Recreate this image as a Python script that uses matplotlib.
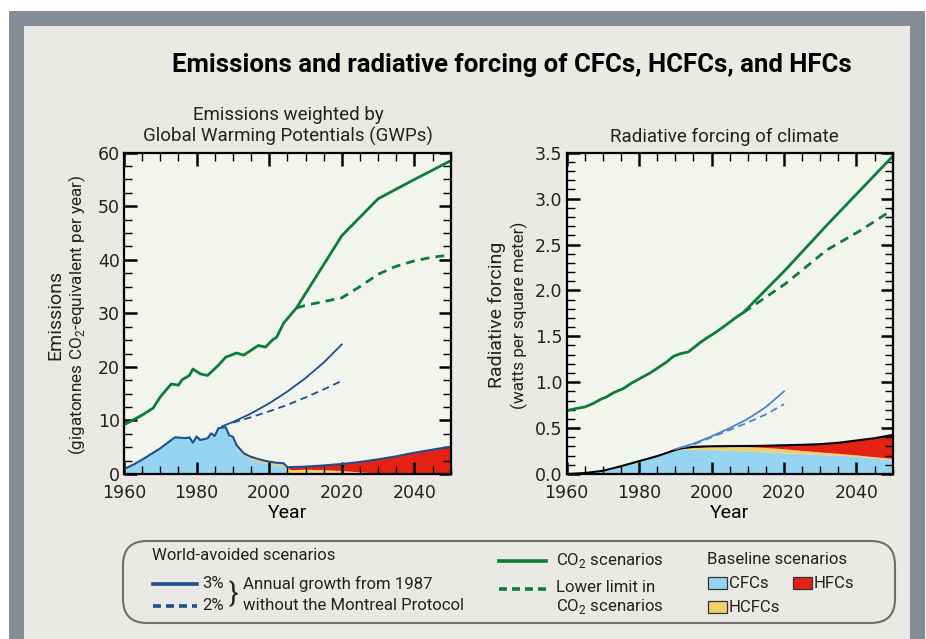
import numpy as np
import matplotlib
matplotlib.use("Agg")
import matplotlib.pyplot as plt
from matplotlib.patches import Rectangle, FancyBboxPatch
from matplotlib.lines import Line2D
from matplotlib.ticker import MultipleLocator, FormatStrFormatter

# ---- emissions (GtCO2-eq per year) ----
yrs_e = [1960, 1963, 1966, 1970, 1974, 1977, 1978, 1979, 1980, 1981, 1983, 1984,
         1985, 1986, 1988, 1989, 1990, 1991, 1993, 1995, 1998, 2000, 2002, 2004,
         2005, 2006, 2010, 2015, 2020, 2025, 2030, 2035, 2040, 2045, 2050]
cfc_e = [0.9, 1.9, 3.1, 4.8, 6.85, 6.7, 6.85, 5.85, 7.0, 6.35, 6.6, 7.5,
         7.0, 8.4, 8.5, 6.9, 6.6, 5.0, 3.4, 2.7, 2.1, 1.8, 1.6, 1.5,
         0.6, 0, 0, 0, 0, 0, 0, 0, 0, 0, 0]
hcfc_e = [0, 0, 0, 0, 0, 0, 0, 0, 0, 0, 0.05, 0.08,
          0.1, 0.15, 0.25, 0.3, 0.35, 0.4, 0.45, 0.5, 0.5, 0.5, 0.5, 0.5,
          0.65, 0.7, 0.8, 0.7, 0.55, 0.3, 0.1, 0, 0, 0, 0]
hfc_e = [0, 0, 0, 0, 0, 0, 0, 0, 0, 0, 0, 0,
         0, 0, 0, 0, 0, 0, 0, 0, 0, 0, 0, 0,
         0, 0.6, 0.57, 0.9, 1.32, 1.95, 2.64, 3.3, 3.98, 4.55, 5.1]

co2_e_yrs = [1960, 1962, 1965, 1968, 1970, 1973, 1975, 1976, 1978, 1979, 1981, 1983,
             1986, 1988, 1991, 1993, 1997, 1999, 2001, 2002, 2004, 2007.5, 2020,
             2030, 2040, 2050]
co2_e = [9.2, 9.9, 11.0, 12.3, 14.4, 16.8, 16.6, 17.6, 18.4, 19.6, 18.7, 18.4,
         20.3, 21.8, 22.6, 22.2, 24.0, 23.7, 25.1, 25.5, 28.2, 31.0, 44.5,
         51.4, 55.0, 58.5]
co2_low_e_yrs = [2007.5, 2010, 2015, 2020, 2025, 2030, 2035, 2040, 2045, 2050]
co2_low_e = [31.0, 31.5, 32.2, 32.9, 35.0, 37.3, 38.8, 39.8, 40.5, 40.9]

wa3_e_yrs = [1987, 1990, 1995, 2000, 2005, 2010, 2015, 2020]
wa3_e = [8.9, 9.7, 11.3, 13.2, 15.4, 17.9, 20.8, 24.2]
wa2_e_yrs = [1990, 1995, 2000, 2005, 2010, 2015, 2020]
wa2_e = [9.6, 10.6, 11.7, 12.9, 14.3, 15.8, 17.4]

# ---- radiative forcing (W/m2) ----
yrs_f = [1960, 1965, 1970, 1975, 1980, 1985, 1990, 1992, 1995, 2000, 2005,
         2010, 2015, 2020, 2025, 2030, 2035, 2040, 2045, 2050]
cfc_f = [0, 0.01, 0.035, 0.085, 0.14, 0.19, 0.25, 0.265, 0.265, 0.26, 0.252,
         0.243, 0.234, 0.225, 0.216, 0.207, 0.198, 0.188, 0.168, 0.145]
hcfc_f = [0, 0, 0, 0, 0, 0.005, 0.01, 0.015, 0.025, 0.035, 0.045,
          0.05, 0.05, 0.045, 0.035, 0.028, 0.022, 0.015, 0.015, 0.02]
hfc_f = [0, 0, 0, 0, 0, 0, 0.002, 0.002, 0.005, 0.007, 0.007,
         0.012, 0.024, 0.043, 0.067, 0.09, 0.12, 0.162, 0.207, 0.26]

co2_f_yrs = [1960, 1962.8, 1965, 1967.4, 1969.2, 1971, 1972.9, 1975.6, 1977.9,
             1980.2, 1983, 1985.3, 1987.6, 1989.4, 1991.3, 1993.6, 1996.8,
             1998.6, 2001.4, 2004.2, 2006.9, 2008.8, 2020.3, 2031.8, 2041, 2050]
co2_f = [0.69, 0.715, 0.73, 0.77, 0.81, 0.84, 0.885, 0.93, 0.99,
         1.04, 1.10, 1.16, 1.22, 1.28, 1.31, 1.33, 1.43,
         1.48, 1.55, 1.63, 1.71, 1.76, 2.22, 2.71, 3.09, 3.46]
co2_low_f_yrs = [2008.8, 2020.3, 2031.8, 2041, 2050]
co2_low_f = [1.76, 2.07, 2.44, 2.65, 2.88]

wa3_f_yrs = [1990, 1995, 2000, 2005, 2010, 2015, 2020]
wa3_f = [0.27, 0.33, 0.41, 0.50, 0.60, 0.73, 0.90]
wa2_f_yrs = [1992, 1995, 2000, 2005, 2010, 2015, 2020]
wa2_f = [0.29, 0.32, 0.40, 0.48, 0.56, 0.65, 0.76]

# colours
C_CFC = "#96d4f4"
C_HCFC = "#f3cf6c"
C_HFC = "#e32214"
C_GREEN = "#0b7d38"
C_BLUE_D = "#1c4f8f"
C_BLUE_L = "#4d82cc"
C_FRAME = "#878d97"
C_PANEL = "#ebe9e5"
C_AX = "#f2f4ee"
C_TXT = "#222222"

plt.rcParams["font.family"] = ["Roboto", "DejaVu Sans"]
plt.rcParams["text.color"] = C_TXT
plt.rcParams["mathtext.fontset"] = "custom"
plt.rcParams["mathtext.rm"] = "Roboto"

W, H = 926, 639
fig = plt.figure(figsize=(W / 100, H / 100), dpi=100)
fig.patch.set_facecolor("white")

# background frame and legend box, drawn in pixel space
bg = fig.add_axes([0, 0, 1, 1], zorder=-1)
bg.set_xlim(0, W)
bg.set_ylim(H, 0)
bg.axis("off")
bg.add_patch(Rectangle((9, 11), 916, H - 11, color=C_FRAME, lw=0))
bg.add_patch(Rectangle((24, 26), 886, H - 26, color=C_PANEL, lw=0))

bg.text(512, 65, "Emissions and radiative forcing of CFCs, HCFCs, and HFCs",
        ha="center", va="center", fontsize=18.5, fontweight="bold", color="black")


def style_axes(ax, ymajor, yminor):
    ax.set_facecolor(C_AX)
    ax.set_xlim(1960, 2050)
    ax.xaxis.set_major_locator(MultipleLocator(20))
    ax.xaxis.set_minor_locator(MultipleLocator(5))
    ax.yaxis.set_major_locator(MultipleLocator(ymajor))
    ax.yaxis.set_minor_locator(MultipleLocator(yminor))
    ax.tick_params(which="both", direction="in", top=True, right=True,
                   colors="black", labelcolor=C_TXT)
    ax.tick_params(which="major", length=9, width=1.8, labelsize=12.5)
    ax.tick_params(axis="x", which="major", pad=7)
    ax.tick_params(axis="y", which="major", pad=3)
    ax.tick_params(which="minor", length=5.5, width=1.0)
    for s in ax.spines.values():
        s.set_linewidth(1.6)
        s.set_color("black")
    ax.set_xlabel("Year", fontsize=14, labelpad=2)


# ---- left panel: emissions ----
ax1 = fig.add_axes([124 / W, 1 - 474 / H, 326.7 / W, 321.3 / H])
style_axes(ax1, 10, 2.5)
ax1.set_ylim(0, 60)
ax1.stackplot(yrs_e, cfc_e, hcfc_e, hfc_e, colors=[C_CFC, C_HCFC, C_HFC], lw=0)
tot_e = np.array(cfc_e) + np.array(hcfc_e) + np.array(hfc_e)
ax1.plot(yrs_e, tot_e, color=C_BLUE_D, lw=1.5)
ax1.plot(wa3_e_yrs, wa3_e, color=C_BLUE_D, lw=1.3)
ax1.plot(wa2_e_yrs, wa2_e, color=C_BLUE_D, lw=1.3, ls=(0, (4, 2.6)))
ax1.plot(co2_e_yrs, co2_e, color=C_GREEN, lw=2.0)
ax1.plot(co2_low_e_yrs, co2_low_e, color=C_GREEN, lw=2.0, ls=(0, (3.2, 2.2)))
bg.text(288, 126, "Emissions weighted by\nGlobal Warming Potentials (GWPs)",
        fontsize=13.5, ha="center", va="center", linespacing=1.2)
bg.text(55, 315, "Emissions", fontsize=14, rotation=90, ha="center", va="center")
bg.text(77, 315, "(gigatonnes CO$_2$-equivalent per year)", fontsize=12.3,
        rotation=90, ha="center", va="center")

# ---- right panel: radiative forcing ----
ax2 = fig.add_axes([566.7 / W, 1 - 474 / H, 326 / W, 321.3 / H])
style_axes(ax2, 0.5, 0.1)
ax2.set_ylim(0, 3.5)
ax2.yaxis.set_major_formatter(FormatStrFormatter("%.1f"))
ax2.stackplot(yrs_f, cfc_f, hcfc_f, hfc_f, colors=[C_CFC, C_HCFC, C_HFC], lw=0)
tot_f = np.array(cfc_f) + np.array(hcfc_f) + np.array(hfc_f)
ax2.plot(yrs_f, tot_f, color="black", lw=1.5)
ax2.plot(wa3_f_yrs, wa3_f, color=C_BLUE_L, lw=1.3)
ax2.plot(wa2_f_yrs, wa2_f, color=C_BLUE_L, lw=1.3, ls=(0, (4, 2.6)))
ax2.plot(co2_f_yrs, co2_f, color=C_GREEN, lw=2.0)
ax2.plot(co2_low_f_yrs, co2_low_f, color=C_GREEN, lw=2.0, ls=(0, (3.2, 2.2)))
bg.text(724, 137, "Radiative forcing of climate", fontsize=13.5,
        ha="center", va="center")
bg.text(497, 315, "Radiative forcing", fontsize=14, rotation=90,
        ha="center", va="center")
bg.text(519, 315, "(watts per square meter)", fontsize=12.3, rotation=90,
        ha="center", va="center")

for ax in (ax1, ax2):
    for lab in ax.get_xticklabels() + ax.get_yticklabels():
        lab.set_family("DejaVu Sans")

# ---- legend ----
bg.add_patch(FancyBboxPatch((123, 541), 772, 82,
                            boxstyle="round,pad=0,rounding_size=24",
                            fc=C_PANEL, ec="#6e6e6e", lw=1.5))
lt = dict(fontsize=12.1, va="center", color=C_TXT)
bg.text(152, 556, "World-avoided scenarios", **lt)
bg.add_line(Line2D([153, 197], [584, 584], color=C_BLUE_D, lw=2.6))
bg.add_line(Line2D([153, 197], [606, 606], color=C_BLUE_D, lw=2.6, ls=(0, (2.2, 1.4))))
bg.text(202, 584, "3%", **lt)
bg.text(202, 606, "2%", **lt)
bg.text(229, 595, "}", fontsize=20, va="center", color=C_TXT)
bg.text(243, 584, "Annual growth from 1987", **lt)
bg.text(243, 606, "without the Montreal Protocol", **lt)

bg.add_line(Line2D([499, 546], [561, 561], color=C_GREEN, lw=2.6))
bg.add_line(Line2D([499, 546], [589, 589], color=C_GREEN, lw=2.6, ls=(0, (2.2, 1.4))))
bg.text(556, 561, "CO$_2$ scenarios", **lt)
bg.text(556, 588, "Lower limit in", **lt)
bg.text(556, 607, "CO$_2$ scenarios", **lt)

bg.text(707, 559, "Baseline scenarios", **lt)
for (x, y, c, name) in [(708, 577, C_CFC, "CFCs"), (793, 577, C_HFC, "HFCs"),
                        (708, 601, C_HCFC, "HCFCs")]:
    bg.add_patch(Rectangle((x, y), 19, 12, fc=c, ec="#333333", lw=0.9))
    bg.text(x + 21, y + 6.5, name, **lt)

fig.savefig("out.png", dpi=100)
